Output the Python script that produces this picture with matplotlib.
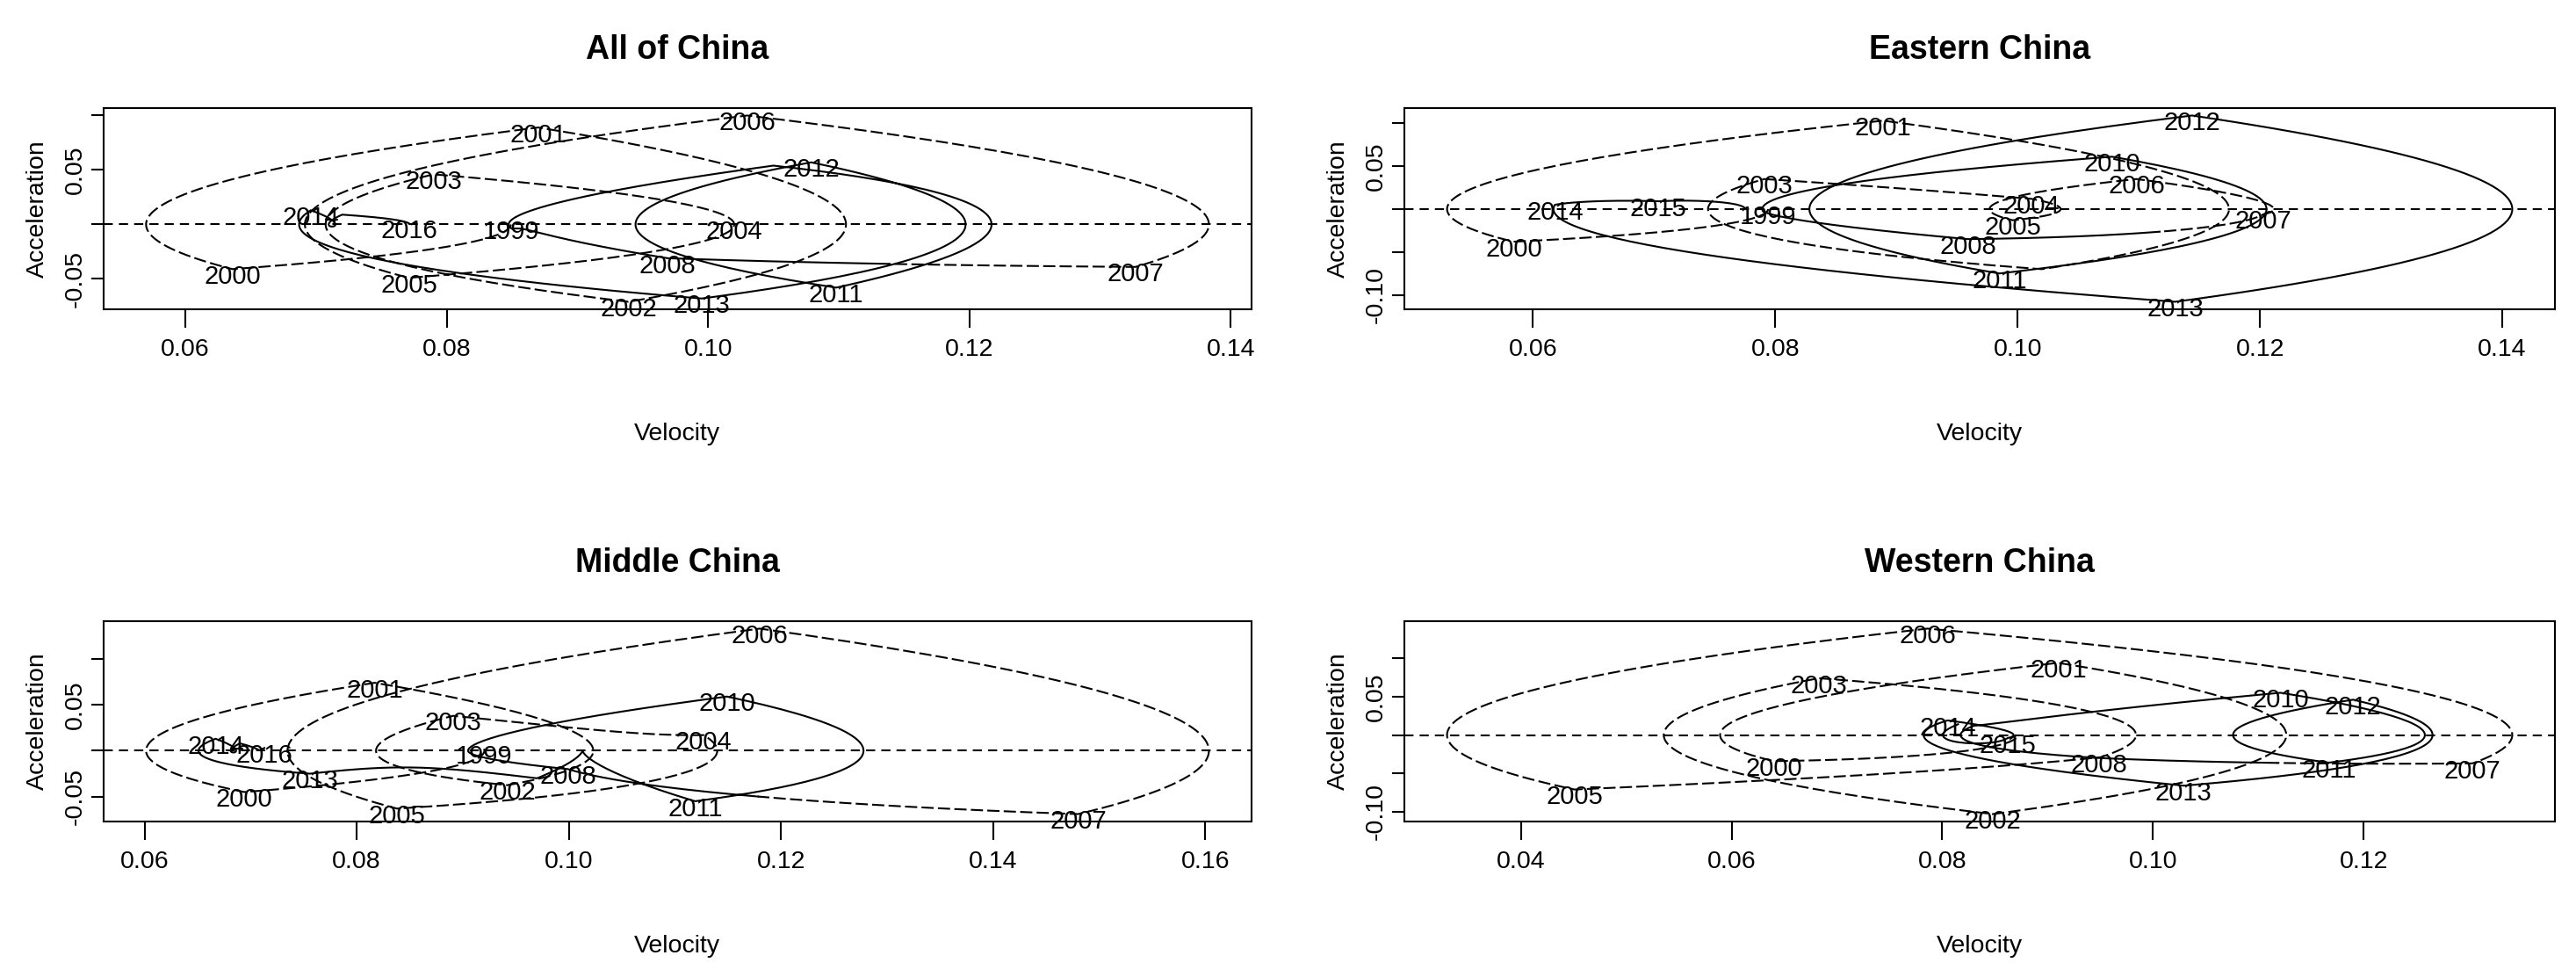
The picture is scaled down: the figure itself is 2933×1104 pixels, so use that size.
import numpy as np
import matplotlib
matplotlib.use("Agg")
import matplotlib.pyplot as plt

plt.rcParams['font.family'] = ['Liberation Sans', 'DejaVu Sans']
plt.rcParams['lines.scale_dashes'] = False

years = list(range(1999, 2017))

# velocity / acceleration at each year
all_vel = [0.0849, 0.0636, 0.0870, 0.0939, 0.0790, 0.1020, 0.0771, 0.1030, 0.1327,
           0.0969, 0.0850, 0.1050, 0.1098, 0.1079, 0.0995, 0.0696, 0.0720, 0.0771]
all_acc = [0.000, -0.041, 0.089, -0.071, 0.046, 0.000, -0.049, 0.100, -0.039,
           -0.031, -0.004, 0.054, -0.058, 0.057, -0.068, 0.013, 0.009, 0.001]

east_vel = [0.0794, 0.0584, 0.0889, 0.1020, 0.0791, 0.1011, 0.0996, 0.1098, 0.1203,
            0.0959, 0.0790, 0.1078, 0.0985, 0.1144, 0.1130, 0.0618, 0.0703, 0.0775]
east_acc = [0.000, -0.038, 0.103, -0.070, 0.035, 0.012, -0.013, 0.035, -0.006,
            -0.035, -0.003, 0.061, -0.075, 0.109, -0.108, 0.005, 0.009, 0.000]

mid_vel = [0.0920, 0.0694, 0.0817, 0.0942, 0.0891, 0.1127, 0.0838, 0.1180, 0.1480,
           0.0999, 0.0905, 0.1149, 0.1119, 0.0970, 0.0756, 0.0667, 0.0690, 0.0713]
mid_acc = [0.002, -0.045, 0.074, -0.0375, 0.038, 0.017, -0.063, 0.133, -0.069,
           -0.020, 0.000, 0.059, -0.055, -0.030, -0.025, 0.013, 0.008, 0.003]

west_vel = [0.0870, 0.0640, 0.0910, 0.0848, 0.0683, 0.0950, 0.0451, 0.0786, 0.1303,
            0.0949, 0.0830, 0.1121, 0.1167, 0.1190, 0.1029, 0.0805, 0.0862, 0.0815]
west_acc = [-0.004, -0.034, 0.094, -0.103, 0.074, -0.029, -0.071, 0.1386, -0.037,
            -0.030, 0.012, 0.055, -0.036, 0.046, -0.066, 0.019, -0.004, 0.014]

# years whose labels can be read on each panel (the others sit under other labels)
all_shown = [1999, 2000, 2001, 2002, 2003, 2004, 2005, 2006, 2007, 2008, 2011, 2012, 2013, 2014, 2016]
east_shown = [1999, 2000, 2001, 2003, 2004, 2005, 2006, 2007, 2008, 2010, 2011, 2012, 2013, 2014, 2015]
mid_shown = [1999, 2000, 2001, 2002, 2003, 2004, 2005, 2006, 2007, 2008, 2010, 2011, 2013, 2014, 2016]
west_shown = [2000, 2001, 2002, 2003, 2005, 2006, 2007, 2008, 2010, 2011, 2012, 2013, 2014, 2015]

titles = ["All of China", "Eastern China", "Middle China", "Western China"]
x_ticks = [[0.06, 0.08, 0.10, 0.12, 0.14],
           [0.06, 0.08, 0.10, 0.12, 0.14],
           [0.06, 0.08, 0.10, 0.12, 0.14, 0.16],
           [0.04, 0.06, 0.08, 0.10, 0.12]]
y_ticks = [[-0.05, 0.0, 0.05, 0.10],
           [-0.10, -0.05, 0.0, 0.05, 0.10],
           [-0.05, 0.0, 0.05, 0.10],
           [-0.10, -0.05, 0.0, 0.05, 0.10]]
y_tick_labels = [["-0.05", "", "0.05", ""],
                 ["-0.10", "", "", "0.05", ""],
                 ["-0.05", "", "0.05", ""],
                 ["-0.10", "", "", "0.05", ""]]
vel = [all_vel, east_vel, mid_vel, west_vel]
acc = [all_acc, east_acc, mid_acc, west_acc]
shown = [all_shown, east_shown, mid_shown, west_shown]


def phase_path(t, v, a, n=60):
    # cubic Hermite trajectory: acceleration is the time derivative of velocity
    tt, vv, aa = [], [], []
    for i in range(len(t) - 1):
        h = t[i + 1] - t[i]
        s = np.linspace(0, 1, n, endpoint=False)
        h00 = 2 * s**3 - 3 * s**2 + 1
        h10 = s**3 - 2 * s**2 + s
        h01 = -2 * s**3 + 3 * s**2
        h11 = s**3 - s**2
        d00 = 6 * s**2 - 6 * s
        d10 = 3 * s**2 - 4 * s + 1
        d01 = -6 * s**2 + 6 * s
        d11 = 3 * s**2 - 2 * s
        tt.append(t[i] + s * h)
        vv.append(h00 * v[i] + h10 * h * a[i] + h01 * v[i + 1] + h11 * h * a[i + 1])
        aa.append((d00 * v[i] + d01 * v[i + 1]) / h + d10 * a[i] + d11 * a[i + 1])
    tt.append([t[-1]]); vv.append([v[-1]]); aa.append([a[-1]])
    return np.concatenate(tt), np.concatenate(vv), np.concatenate(aa)


fig = plt.figure(figsize=(29.33, 11.04), dpi=100)
boxes = [[0.0402, 0.6812, 0.4456, 0.2074],
         [0.5452, 0.6812, 0.4466, 0.2074],
         [0.0402, 0.1531, 0.4456, 0.2065],
         [0.5452, 0.1531, 0.4466, 0.2065]]

for k in range(4):
    ax = fig.add_axes(boxes[k])
    t, v, a = phase_path(np.array(years, float), np.array(vel[k]), np.array(acc[k]))
    mid = (years[0] + years[-1]) / 2
    first = t <= mid
    second = t >= mid
    ax.plot(v[first], a[first], color="black", lw=1.5, linestyle=(0, (10, 3.5)))
    ax.plot(v[second], a[second], color="black", lw=1.5, linestyle="solid")
    ax.axhline(0, color="black", lw=1.5, linestyle=(0, (7.5, 5)))
    for yr, x, y in zip(years, vel[k], acc[k]):
        if yr in shown[k]:
            ax.annotate(str(yr), (x, y), xytext=(0, -12), textcoords="offset points",
                        ha="center", va="baseline", fontsize=21)
    ax.margins(x=0.04, y=0.04)
    ax.set_xticks(x_ticks[k])
    ax.set_xticklabels(["%.2f" % x for x in x_ticks[k]])
    ax.set_yticks(y_ticks[k])
    ax.set_yticklabels(y_tick_labels[k], rotation=90, va="center")
    ax.tick_params(axis="x", direction="out", length=15, width=1.5, labelsize=20.5, pad=9)
    ax.tick_params(axis="y", direction="out", length=10, width=1.5, labelsize=20.5, pad=4)
    for sp in ax.spines.values():
        sp.set_linewidth(1.5)
    ax.set_title(titles[k], fontsize=27, fontweight="bold", pad=40)
    ax.set_xlabel("Velocity", fontsize=20.5, labelpad=50)
    ax.set_ylabel("Acceleration", fontsize=20.5, labelpad=12)

fig.savefig("out.png", dpi=100)
